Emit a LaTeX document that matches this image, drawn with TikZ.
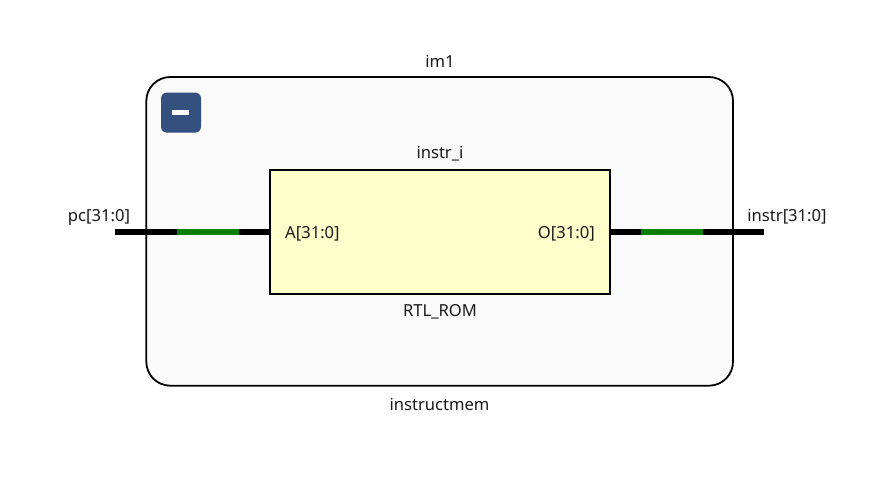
\documentclass[tikz,border=0pt]{standalone}
\usepackage{fontspec}
\setmainfont{Noto Sans}
\definecolor{hier}{HTML}{FAFAFA}
\definecolor{rom}{HTML}{FFFFCC}
\definecolor{btn}{HTML}{34507F}
\definecolor{wire}{HTML}{008000}
\tikzset{
  lbl/.style={inner sep=0pt,font=\fontsize{16.6}{18}\selectfont,text=black!90},
  bus/.style={line width=6pt,black},
  midbus/.style={line width=6pt,wire},
}
\begin{document}
\begin{tikzpicture}[x=1pt,y=-1pt,every node/.style={lbl}]
\useasboundingbox (0,0) rectangle (883,487);
\fill[white] (0,0) rectangle (883,487);
\draw[black,line width=1.8pt,fill=hier,rounded corners=24pt] (146.3,77) rectangle (733,385.7);
\fill[btn,rounded corners=6pt] (161,92.5) rectangle (201,132.7);
\fill[white] (172,110) rectangle (189,115);
\node[draw=black,line width=2pt,fill=rom,minimum width=340pt,minimum height=124pt,outer sep=0pt,anchor=north west,inner sep=0pt] (romb) at (270,170) {};
\coordinate (pcend) at (115,232);
\coordinate (pca) at (177,232);
\coordinate (pcb) at (239,232);
\coordinate (ina) at (270,232);
\coordinate (outa) at (610,232);
\coordinate (outb) at (641,232);
\coordinate (outc) at (703,232);
\coordinate (outend) at (764,232);
\draw[bus] (pcend) -- (ina);
\draw[midbus] (pca) -- (pcb);
\draw[bus] (outa) -- (outend);
\draw[midbus] (outb) -- (outc);
\node (t1) at (440,61) {im1};
\node (t2) at (440,154) {instr\_i};
\node (t3) at (99,217) {pc[31:0]};
\node (t4) at (787,217) {instr[31:0]};
\node[anchor=west] (t5) at (285,233.5) {A[31:0]};
\node[anchor=east] (t6) at (595,233.5) {O[31:0]};
\node (t7) at (440,311.5) {RTL\_ROM};
\node (t8) at (439.5,404) {instructmem};
\end{tikzpicture}
\end{document}
